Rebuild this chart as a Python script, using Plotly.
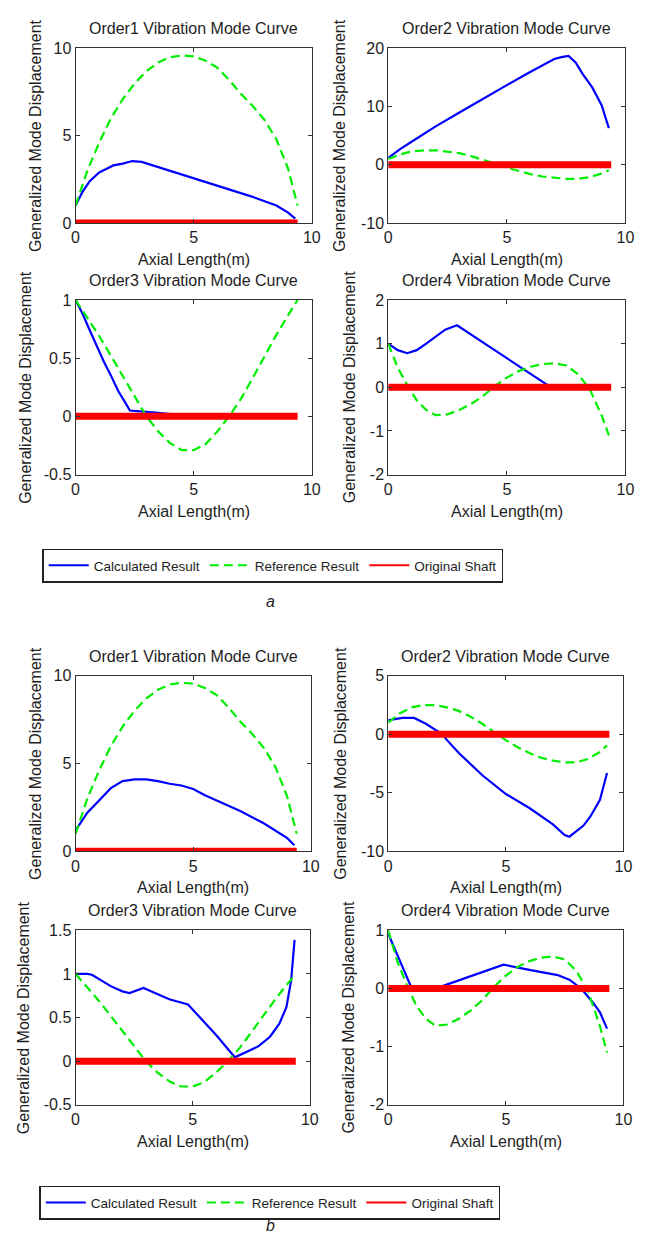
import plotly.graph_objects as go

# ---------------- data ----------------
shaft_x = [0.0, 9.4]
shaft_y = [0.0, 0.0]

# Reference result (same in a and b)
ref1_x = [0, 0.5, 1, 1.5, 2, 2.5, 3, 3.5, 4, 4.5, 5, 5.5, 6, 6.5, 7, 7.5, 8, 8.5, 9, 9.4]
ref1_y = [1.0, 3.0, 4.6, 6.0, 7.1, 8.0, 8.7, 9.2, 9.5, 9.6, 9.55, 9.3, 8.9, 8.2, 7.4, 6.7, 5.9, 4.8, 3.1, 1.0]

ref2_x = [0, 0.5, 1, 1.5, 2, 2.5, 3, 3.5, 4, 4.5, 5, 5.5, 6, 6.5, 7, 7.5, 8, 8.5, 9, 9.3]
ref2_y = [1.0, 1.8, 2.3, 2.5, 2.5, 2.3, 2.0, 1.5, 0.9, 0.2, -0.5, -1.1, -1.6, -2.0, -2.25, -2.4, -2.4, -2.1, -1.5, -0.95]

ref3_x = [0, 0.5, 1, 1.5, 2, 2.5, 3, 3.5, 4, 4.5, 5, 5.5, 6, 6.5, 7, 7.5, 8, 8.5, 9, 9.4]
ref3_y = [1.0, 0.85, 0.69, 0.52, 0.35, 0.17, 0.0, -0.13, -0.23, -0.29, -0.29, -0.24, -0.13, 0.0, 0.15, 0.33, 0.52, 0.70, 0.87, 1.0]

ref4_x = [0, 0.4, 0.8, 1.2, 1.6, 2.0, 2.5, 3.0, 3.5, 4.0, 4.5, 5.0, 5.5, 6.0, 6.5, 7.0, 7.5, 8.0, 8.5, 9.0, 9.3]
ref4_y = [1.0, 0.45, 0.05, -0.3, -0.52, -0.64, -0.62, -0.52, -0.38, -0.2, 0.03, 0.22, 0.37, 0.47, 0.53, 0.55, 0.5, 0.3, -0.05, -0.65, -1.1]

# Calculated result, figure a
a1_x = [0, 0.3, 0.6, 1.0, 1.3, 1.6, 2.0, 2.4, 2.8, 3.5, 4.0, 5.0, 6.0, 7.0, 7.5, 8.0, 8.5, 9.0, 9.3]
a1_y = [1.0, 1.8, 2.4, 2.9, 3.1, 3.3, 3.4, 3.55, 3.5, 3.2, 3.0, 2.6, 2.15, 1.7, 1.5, 1.25, 1.0, 0.6, 0.25]

a2_x = [0, 0.5, 1, 1.5, 2, 3, 4, 5, 6, 6.5, 7, 7.3, 7.6, 7.9, 8.2, 8.6, 9.0, 9.3]
a2_y = [1.2, 2.7, 4.0, 5.3, 6.6, 9.0, 11.4, 13.7, 16.0, 17.1, 18.2, 18.5, 18.7, 17.6, 15.6, 13.3, 10.2, 6.3]

a3_x = [0, 0.3, 0.6, 0.9, 1.2, 1.5, 1.8, 2.1, 2.3, 2.6, 3.0, 3.5, 4.0, 4.5, 5.0]
a3_y = [1.0, 0.88, 0.74, 0.6, 0.47, 0.35, 0.22, 0.12, 0.05, 0.045, 0.04, 0.03, 0.02, 0.015, 0.01]

a4_x = [0, 0.4, 0.8, 1.2, 1.6, 2.0, 2.4, 2.9, 4.0, 5.0, 6.0, 6.8]
a4_y = [1.0, 0.85, 0.78, 0.85, 1.0, 1.15, 1.32, 1.42, 1.02, 0.66, 0.3, 0.02]

# Calculated result, figure b
b1_x = [0, 0.5, 1.0, 1.5, 2.0, 2.5, 3.0, 3.5, 4.0, 4.5, 5.0, 5.5, 6.0, 7.0, 8.0, 8.5, 9.0, 9.3]
b1_y = [1.2, 2.2, 2.9, 3.6, 4.0, 4.1, 4.1, 4.0, 3.85, 3.75, 3.55, 3.2, 2.9, 2.3, 1.6, 1.15, 0.75, 0.35]

b2_x = [0, 0.6, 1.1, 1.6, 2.3, 2.5, 3.0, 4.0, 5.0, 6.0, 7.0, 7.5, 7.7, 8.0, 8.3, 8.6, 9.0, 9.3]
b2_y = [1.2, 1.4, 1.4, 0.9, 0.0, -0.5, -1.6, -3.5, -5.1, -6.3, -7.7, -8.6, -8.75, -8.3, -7.8, -7.0, -5.6, -3.3]

b3_x = [0, 0.5, 0.7, 1.2, 1.5, 2.0, 2.3, 2.9, 3.5, 4.0, 4.8, 5.5, 6.0, 6.8, 7.3, 7.8, 8.3, 8.7, 9.0, 9.2, 9.35]
b3_y = [1.0, 1.0, 0.99, 0.91, 0.86, 0.8, 0.78, 0.84, 0.77, 0.71, 0.65, 0.45, 0.3, 0.045, 0.11, 0.17, 0.28, 0.43, 0.62, 0.92, 1.39]

b4_x = [0, 0.5, 0.9, 1.0, 1.5, 2.0, 2.3, 3.0, 4.0, 4.9, 6.0, 7.2, 7.7, 8.2, 8.7, 9.0, 9.3]
b4_y = [0.94, 0.46, 0.07, 0.0, -0.02, 0.0, 0.04, 0.14, 0.28, 0.41, 0.32, 0.23, 0.15, 0.0, -0.24, -0.41, -0.69]

# axes ranges and tick labels
x_range = [0, 10]
x_tickvals = [0, 5, 10]
x_ticktext = ["0", "5", "10"]

a1_range, a1_ticks, a1_text = [0, 10], [0, 5, 10], ["0", "5", "10"]
a2_range, a2_ticks, a2_text = [-10, 20], [-10, 0, 10, 20], ["-10", "0", "10", "20"]
a3_range, a3_ticks, a3_text = [-0.5, 1], [-0.5, 0, 0.5, 1], ["-0.5", "0", "0.5", "1"]
a4_range, a4_ticks, a4_text = [-2, 2], [-2, -1, 0, 1, 2], ["-2", "-1", "0", "1", "2"]
b1_range, b1_ticks, b1_text = [0, 10], [0, 5, 10], ["0", "5", "10"]
b2_range, b2_ticks, b2_text = [-10, 5], [-10, -5, 0, 5], ["-10", "-5", "0", "5"]
b3_range, b3_ticks, b3_text = [-0.5, 1.5], [-0.5, 0, 0.5, 1, 1.5], ["-0.5", "0", "0.5", "1", "1.5"]
b4_range, b4_ticks, b4_text = [-2, 1], [-2, -1, 0, 1], ["-2", "-1", "0", "1"]

panel_titles = ["Order1 Vibration Mode Curve", "Order2 Vibration Mode Curve",
                "Order3 Vibration Mode Curve", "Order4 Vibration Mode Curve"]
series_names = ["Calculated Result", "Reference Result", "Original Shaft"]
x_title = "Axial Length(m)"
y_title = "Generalized Mode Displacement"

# ---------------- layout helpers ----------------
W, H = 657, 1248
FONT = "Liberation Sans, Arial, sans-serif"
TXT = "#1e1e1e"
BLUE, GREEN, RED = "#0000ff", "#00ee00", "#ff0000"
DASH = "9px,5px"


def fx(p):
    return p / W


def fy(p):
    return 1 - p / H


panels = [
    (a1_x, a1_y, ref1_x, ref1_y, a1_range, a1_ticks, a1_text, 73, 314, 41, 218, 32, 0),
    (a2_x, a2_y, ref2_x, ref2_y, a2_range, a2_ticks, a2_text, 392, 634, 41, 218, 343, 1),
    (a3_x, a3_y, ref3_x, ref3_y, a3_range, a3_ticks, a3_text, 73, 314, 296, 473, 22, 2),
    (a4_x, a4_y, ref4_x, ref4_y, a4_range, a4_ticks, a4_text, 392, 634, 296, 473, 352, 3),
    (b1_x, b1_y, ref1_x, ref1_y, b1_range, b1_ticks, b1_text, 73, 313, 677, 855, 32, 0),
    (b2_x, b2_y, ref2_x, ref2_y, b2_range, b2_ticks, b2_text, 392, 632, 677, 855, 343, 1),
    (b3_x, b3_y, ref3_x, ref3_y, b3_range, b3_ticks, b3_text, 73, 312, 935, 1112, 20, 2),
    (b4_x, b4_y, ref4_x, ref4_y, b4_range, b4_ticks, b4_text, 392, 632, 935, 1112, 352, 3),
]

fig = go.Figure()
annotations = []
layout_axes = {}

for i, (cx, cy, rx, ry, yr, yt, ytt, L, R, T, B, ytx, ti) in enumerate(panels):
    n = i + 1
    xa = "x" if n == 1 else f"x{n}"
    ya = "y" if n == 1 else f"y{n}"
    fig.add_trace(go.Scatter(x=cx, y=cy, mode="lines", name=series_names[0],
                             line=dict(color=BLUE, width=2.2),
                             xaxis=xa, yaxis=ya, showlegend=False))
    fig.add_trace(go.Scatter(x=rx, y=ry, mode="lines", name=series_names[1],
                             line=dict(color=GREEN, width=2.2, dash=DASH),
                             xaxis=xa, yaxis=ya, showlegend=False))
    fig.add_trace(go.Scatter(x=shaft_x, y=shaft_y, mode="lines", name=series_names[2],
                             line=dict(color=RED, width=7),
                             xaxis=xa, yaxis=ya, showlegend=False))
    axcommon = dict(showline=True, mirror="ticks", linecolor="#333", linewidth=1,
                    ticks="inside", ticklen=4, tickcolor="#333", showgrid=False,
                    zeroline=False, tickfont=dict(family=FONT, size=16, color=TXT))
    layout_axes["xaxis" if n == 1 else f"xaxis{n}"] = dict(
        axcommon, domain=[fx(L), fx(R)], range=x_range, tickmode="array",
        tickvals=x_tickvals, ticktext=x_ticktext, anchor=ya)
    layout_axes["yaxis" if n == 1 else f"yaxis{n}"] = dict(
        axcommon, domain=[fy(B), fy(T)], range=yr, tickmode="array",
        tickvals=yt, ticktext=ytt, anchor=xa)
    cxp = (L + R) / 2
    annotations.append(dict(text=panel_titles[ti], x=fx(cxp), y=fy(T - 20), xref="paper", yref="paper",
                            showarrow=False, xanchor="center", yanchor="middle",
                            font=dict(family=FONT, size=16, color=TXT)))
    annotations.append(dict(text=x_title, x=fx(cxp), y=fy(B + 37), xref="paper", yref="paper",
                            showarrow=False, xanchor="center", yanchor="middle",
                            font=dict(family=FONT, size=16, color=TXT)))
    annotations.append(dict(text=y_title, x=fx(ytx), y=fy((T + B) / 2), xref="paper", yref="paper",
                            showarrow=False, xanchor="center", yanchor="middle", textangle=-90,
                            font=dict(family=FONT, size=16, color=TXT)))

# legend entries (thin sample lines, as in the reference legend)
for leg in ["legend", "legend2"]:
    fig.add_trace(go.Scatter(x=[None], y=[None], mode="lines", name=series_names[0],
                             line=dict(color=BLUE, width=2), legend=leg, showlegend=True))
    fig.add_trace(go.Scatter(x=[None], y=[None], mode="lines", name=series_names[1],
                             line=dict(color=GREEN, width=2, dash=DASH), legend=leg, showlegend=True))
    fig.add_trace(go.Scatter(x=[None], y=[None], mode="lines", name=series_names[2],
                             line=dict(color=RED, width=2), legend=leg, showlegend=True))

annotations.append(dict(text="<i>a</i>", x=fx(272), y=fy(602), xref="paper", yref="paper",
                        showarrow=False, xanchor="center", yanchor="middle",
                        font=dict(family=FONT, size=16, color=TXT)))
annotations.append(dict(text="<i>b</i>", x=fx(272), y=fy(1234), xref="paper", yref="paper",
                        showarrow=False, xanchor="center", yanchor="middle",
                        font=dict(family=FONT, size=16, color=TXT)))

legend_common = dict(orientation="h", bordercolor="#222", borderwidth=1.5, bgcolor="white",
                     font=dict(family=FONT, size=13.5, color=TXT), xanchor="left", yanchor="top",
                     itemwidth=40, tracegroupgap=0)

fig.update_layout(
    width=W, height=H,
    margin=dict(l=0, r=0, t=0, b=0),
    paper_bgcolor="white", plot_bgcolor="white",
    showlegend=True,
    annotations=annotations,
    legend=dict(legend_common, x=fx(39), y=fy(548)),
    legend2=dict(legend_common, x=fx(36), y=fy(1194)),
    **layout_axes,
)

fig.write_html("out.html")
